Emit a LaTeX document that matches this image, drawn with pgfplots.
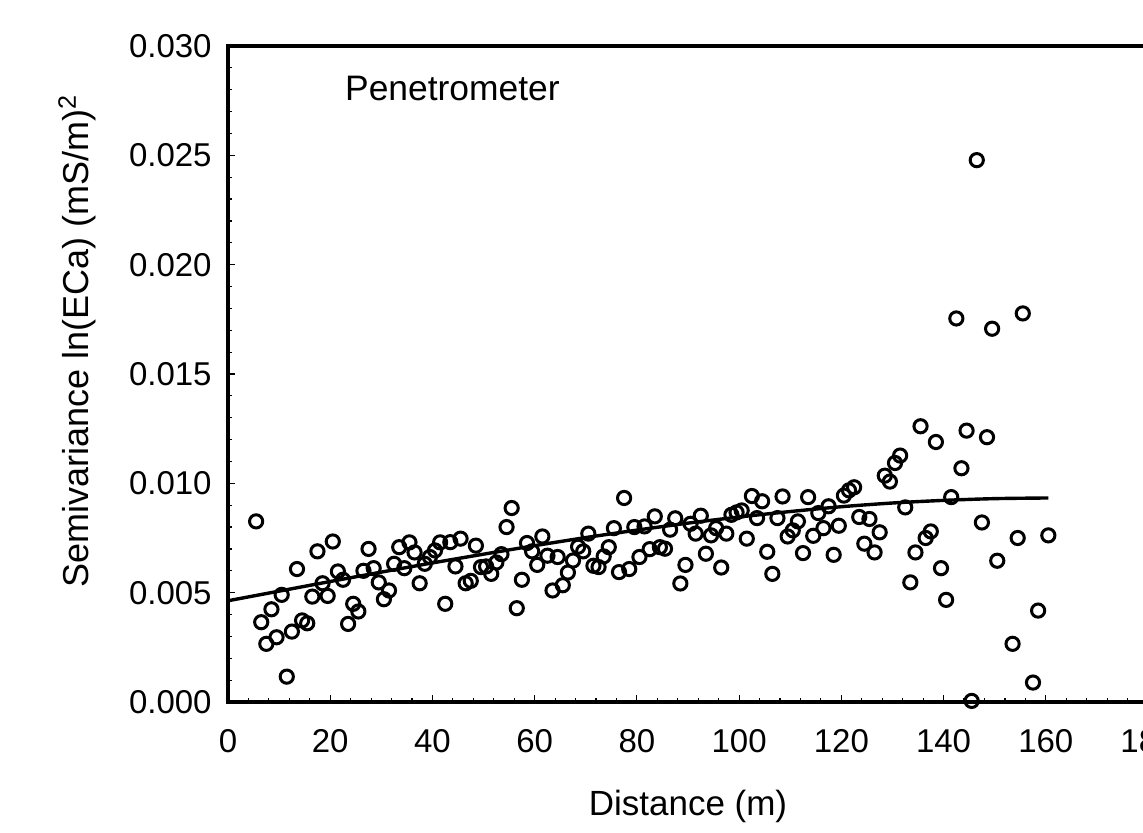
\documentclass[border=0pt]{standalone}
\usepackage{fontspec}
\setmainfont{Liberation Sans}
\usepackage{pgfplots}
\pgfplotsset{compat=1.18}

\begin{document}
\begin{tikzpicture}
\begin{axis}[
  scale only axis, width=460pt, height=328pt,
  xmin=0, xmax=180, ymin=0, ymax=0.03,
  xtick={0,20,40,60,80,100,120,140,160,180},
  ytick={0,0.005,0.01,0.015,0.02,0.025,0.03},
  minor x tick num=4, minor y tick num=4,
  tick align=inside, tick pos=left,
  major tick length=3.6pt, minor tick length=2.2pt,
  every tick/.style={black, line width=0.6pt},
  axis line style={line width=1.7pt},
  scaled y ticks=false,
  /pgf/number format/assume math mode=true,
  tick label style={font=\fontsize{16.5}{20}\selectfont},
  yticklabel style={/pgf/number format/.cd, fixed, fixed zerofill, precision=3, assume math mode=true, /tikz/.cd, inner sep=0pt, xshift=-8pt},
  xticklabel style={inner sep=0pt, yshift=-13.5pt},
  xlabel={Distance (m)},
  ylabel={Semivariance ln(ECa) (mS/m)\textsuperscript{2}},
  xlabel style={at={(rel axis cs:0.5,0)}, anchor=base, yshift=-56.5pt, inner sep=0pt, font=\fontsize{17.5}{21}\selectfont},
  ylabel style={at={(rel axis cs:0,0.551)}, anchor=center, yshift=75.5pt, inner sep=0pt, font=\fontsize{18}{21}\selectfont},
  clip mode=individual,
]
\addplot[only marks, line width=1.5pt, mark=o, mark size=3.3pt, mark options={line width=1.5pt, fill=white, draw=black}] coordinates {
(5.5,0.00826) (6.5,0.00365) (7.5,0.00266) (8.5,0.00424) (9.5,0.00296)
(10.5,0.0049) (11.5,0.00116) (12.5,0.00322) (13.5,0.00608) (14.5,0.00373)
(15.5,0.0036) (16.5,0.00482) (17.5,0.00689) (18.5,0.00543) (19.5,0.00485)
(20.5,0.00734) (21.5,0.00597) (22.5,0.00559) (23.5,0.00357) (24.5,0.00449)
(25.5,0.00414) (26.5,0.006) (27.5,0.007) (28.5,0.00612) (29.5,0.00547)
(30.5,0.0047) (31.5,0.0051) (32.5,0.00632) (33.5,0.00708) (34.5,0.00612)
(35.5,0.0073) (36.5,0.00684) (37.5,0.00543) (38.5,0.00632) (39.5,0.00663)
(40.5,0.00693) (41.5,0.0073) (42.5,0.00449) (43.5,0.00731) (44.5,0.0062)
(45.5,0.00747) (46.5,0.00543) (47.5,0.00554) (48.5,0.00715) (49.5,0.00617)
(50.5,0.0062) (51.5,0.00586) (52.5,0.00638) (53.5,0.00676) (54.5,0.008)
(55.5,0.00887) (56.5,0.00429) (57.5,0.00559) (58.5,0.00727) (59.5,0.00689)
(60.5,0.00627) (61.5,0.00757) (62.5,0.00669) (63.5,0.0051) (64.5,0.00663)
(65.5,0.00534) (66.5,0.00592) (67.5,0.00647) (68.5,0.0071) (69.5,0.00689)
(70.5,0.0077) (71.5,0.00623) (72.5,0.00617) (73.5,0.00666) (74.5,0.00708)
(75.5,0.00795) (76.5,0.00594) (77.5,0.00933) (78.5,0.00608) (79.5,0.008)
(80.5,0.00663) (81.5,0.00803) (82.5,0.00699) (83.5,0.00849) (84.5,0.00708)
(85.5,0.00701) (86.5,0.00788) (87.5,0.0084) (88.5,0.00542) (89.5,0.00627)
(90.5,0.00815) (91.5,0.0077) (92.5,0.00852) (93.5,0.00678) (94.5,0.00762)
(95.5,0.00795) (96.5,0.00615) (97.5,0.0077) (98.5,0.00856) (99.5,0.00867)
(100.5,0.00876) (101.5,0.00747) (102.5,0.00942) (103.5,0.00841) (104.5,0.00918)
(105.5,0.00687) (106.5,0.00586) (107.5,0.00841) (108.5,0.0094) (109.5,0.00757)
(110.5,0.00785) (111.5,0.00826) (112.5,0.00681) (113.5,0.00937) (114.5,0.0076)
(115.5,0.00864) (116.5,0.00795) (117.5,0.00895) (118.5,0.00673) (119.5,0.00806)
(120.5,0.00944) (121.5,0.00968) (122.5,0.00982) (123.5,0.00846) (124.5,0.00724)
(125.5,0.00837) (126.5,0.00684) (127.5,0.00776) (128.5,0.01035) (129.5,0.01008)
(130.5,0.01093) (131.5,0.01127) (132.5,0.0089) (133.5,0.00547) (134.5,0.00684)
(135.5,0.01261) (136.5,0.0075) (137.5,0.0078) (138.5,0.01189) (139.5,0.00612)
(140.5,0.00467) (141.5,0.00937) (142.5,0.01754) (143.5,0.01069) (144.5,0.01241)
(145.5,0.00005) (146.5,0.02478) (147.5,0.00821) (148.5,0.01211) (149.5,0.01707)
(150.5,0.00646) (153.5,0.00266) (154.5,0.0075) (155.5,0.01777) (157.5,0.00089)
(158.5,0.00418) (160.5,0.00762)
};
\addplot[black, line width=1.7pt, smooth] coordinates {
(0,0.00463) (10,0.00507) (20,0.00551) (30,0.00594) (40,0.00636) (50,0.00676)
(60,0.00715) (70,0.00752) (80,0.00786) (90,0.00818) (100,0.00846) (110,0.00871)
(120,0.00893) (130,0.00910) (140,0.00922) (150,0.00930) (160.5,0.00933)
};
\node[anchor=base west, inner sep=0pt, font=\fontsize{17.7}{21}\selectfont] at (axis cs:22.85,0.0275) {Penetrometer};
\path (rel axis cs:0,0) coordinate (O);
\end{axis}
\pgfresetboundingbox
\path ([shift={(-114pt,-65.5pt)}]O) rectangle ([shift={(457.5pt,351pt)}]O);
\end{tikzpicture}
\end{document}
